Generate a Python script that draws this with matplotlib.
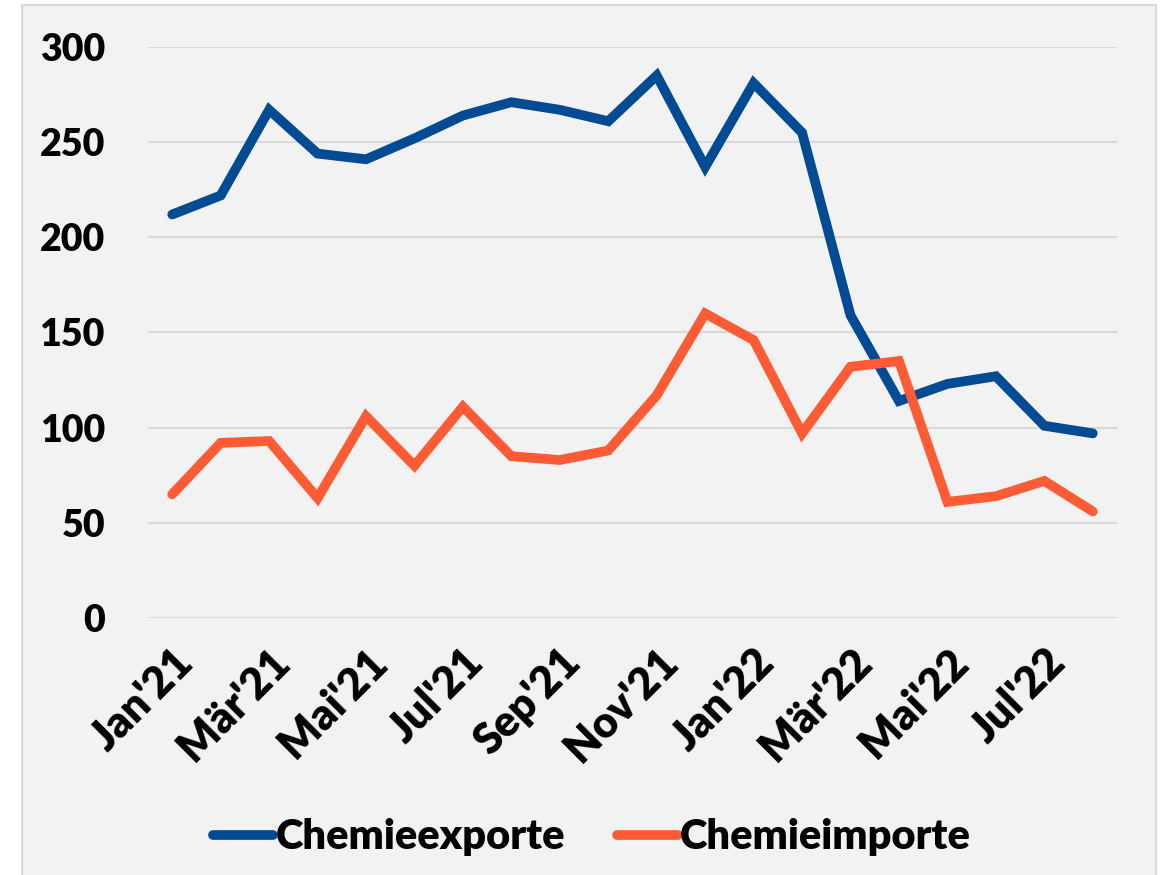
import matplotlib.pyplot as plt
from matplotlib.patches import Rectangle
import numpy as np

# Monate Jan'21 - Aug'22
months = ["Jan'21", "Feb'21", "Mär'21", "Apr'21", "Mai'21", "Jun'21", "Jul'21", "Aug'21",
          "Sep'21", "Okt'21", "Nov'21", "Dez'21", "Jan'22", "Feb'22", "Mär'22", "Apr'22",
          "Mai'22", "Jun'22", "Jul'22", "Aug'22"]
exporte = [212, 222, 267, 244, 241, 252, 264, 271, 267, 261, 285, 237,
           281, 255, 159, 114, 123, 127, 101, 97]
importe = [65, 92, 93, 63, 106, 80, 111, 85, 83, 88, 117, 160,
           146, 97, 132, 135, 61, 64, 72, 56]

plt.rcParams['font.family'] = ['Lato', 'DejaVu Sans']
plt.rcParams['font.weight'] = 'heavy'

fig = plt.figure(figsize=(11.63, 8.75), dpi=100, facecolor='white')
# heller Rahmen wie im Original
fig.patches.append(Rectangle((22 / 1163, -0.01), (1156 - 22) / 1163, 1.0 - 5 / 875 + 0.01,
                             transform=fig.transFigure, facecolor='#f2f2f2',
                             edgecolor='#d9d9d9', linewidth=1.5, zorder=-1))

ax = fig.add_axes([148 / 1163, 1 - 618 / 875, (1117 - 148) / 1163, (618 - 47) / 875])
ax.set_facecolor('none')

x = np.arange(len(months))
ax.plot(x, exporte, color='#004b93', lw=7, solid_capstyle='round',
        solid_joinstyle='miter', label='Chemieexporte', zorder=3)
ax.plot(x, importe, color='#ff5c35', lw=7, solid_capstyle='round',
        solid_joinstyle='miter', label='Chemieimporte', zorder=3)

ax.set_xlim(-0.5, len(months) - 0.5)
ax.set_ylim(0, 300)
ax.set_yticks(range(0, 301, 50))
ax.grid(axis='y', color='#d9d9d9', lw=1.5)
ax.set_axisbelow(True)
for s in ax.spines.values():
    s.set_visible(False)
ax.tick_params(length=0)
ax.tick_params(axis='y', labelsize=27, pad=31)

ax.set_xticks(x[::2])
ax.set_xticklabels(months[::2], rotation=45, ha='right', va='top',
                   rotation_mode='anchor', fontsize=31)
ax.tick_params(axis='x', pad=17)

leg = ax.legend(loc='upper center', bbox_to_anchor=(0.458, -0.285), ncol=2,
                frameon=False, fontsize=30, handlelength=1.45,
                handletextpad=0.05, columnspacing=1.25)

fig.savefig('out.png', dpi=100, facecolor=fig.get_facecolor())
